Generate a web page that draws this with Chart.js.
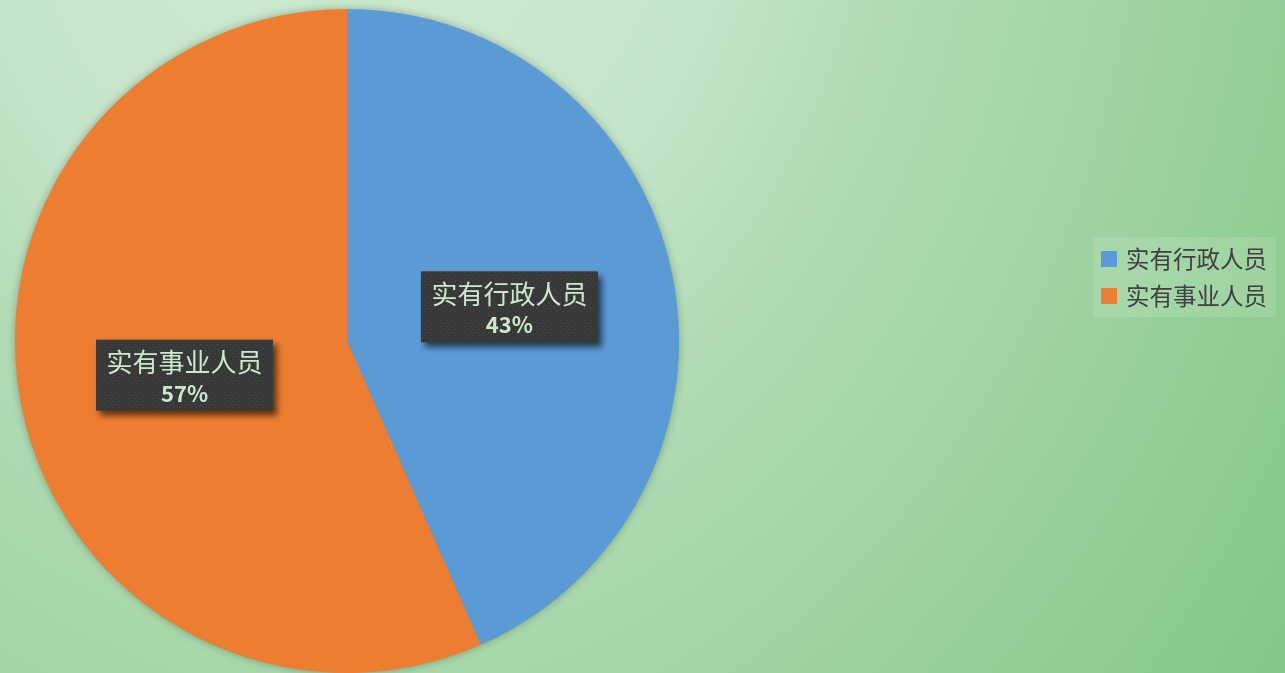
<!DOCTYPE html>
<html>
<head>
<meta charset="utf-8">
<script src="https://cdn.jsdelivr.net/npm/chart.js@4/dist/chart.umd.min.js"></script>
<style>
  html, body { margin: 0; padding: 0; overflow: hidden; }
  #wrap { width: 1285px; height: 673px; }
</style>
</head>
<body>
<div id="wrap"><canvas id="pie"></canvas></div>
<script>
// data
const categories = ["实有行政人员", "实有事业人员"];
const shares = [43.4, 56.6];
const sliceColors = ["#5b9bd5", "#ed7d31"];

const CJK = '"Noto Sans CJK SC", "Noto Sans", sans-serif';

// dotted dark fill for the data label boxes
function makeDots() {
  const c = document.createElement("canvas");
  c.width = 6; c.height = 6;
  const g = c.getContext("2d");
  g.fillStyle = "#383838";
  g.fillRect(0, 0, 6, 6);
  g.fillStyle = "#4a4a4a";
  g.fillRect(2, 2, 1, 1);
  g.fillRect(5, 5, 1, 1);
  return c;
}

// gradient background (elliptical, light spot above the top edge)
const backdrop = {
  id: "backdrop",
  beforeDraw(chart) {
    const { ctx } = chart;
    ctx.save();
    ctx.translate(350, -200);
    ctx.scale(1, 1.25);
    const grad = ctx.createRadialGradient(0, 0, 0, 0, 0, 1170);
    grad.addColorStop(0, "#cdebd2");
    grad.addColorStop(0.33, "#c5e5c9");
    grad.addColorStop(0.47, "#b2dcb5");
    grad.addColorStop(0.57, "#a9d9ad");
    grad.addColorStop(0.67, "#a2d4a5");
    grad.addColorStop(0.81, "#93cf96");
    grad.addColorStop(1, "#85c788");
    ctx.fillStyle = grad;
    ctx.fillRect(-500, 0, 1500, 800);
    ctx.restore();
  },
  // soft shadow under the pie
  beforeDatasetsDraw(chart) {
    const arc = chart.getDatasetMeta(0).data[0];
    if (!arc) return;
    const { ctx } = chart;
    ctx.save();
    ctx.shadowColor = "rgba(0,0,0,0.35)";
    ctx.shadowBlur = 10;
    ctx.fillStyle = "#7a9a7a";
    ctx.beginPath();
    ctx.arc(arc.x, arc.y, arc.outerRadius - 1, 0, Math.PI * 2);
    ctx.fill();
    ctx.restore();
  }
};

// boxed labels at half radius
const sliceLabels = {
  id: "sliceLabels",
  afterDatasetsDraw(chart) {
    const { ctx } = chart;
    const total = shares.reduce((a, b) => a + b, 0);
    const dots = ctx.createPattern(makeDots(), "repeat");
    chart.getDatasetMeta(0).data.forEach((arc, i) => {
      const p = arc.tooltipPosition();
      const w = 177, h = 71;
      const x = p.x - w / 2, y = p.y - h / 2;
      ctx.save();
      ctx.shadowColor = "rgba(0,0,0,0.6)";
      ctx.shadowBlur = 6;
      ctx.shadowOffsetX = 4;
      ctx.shadowOffsetY = 5;
      ctx.fillStyle = dots;
      ctx.fillRect(x, y, w, h);
      ctx.restore();

      ctx.save();
      ctx.fillStyle = "#cde9cd";
      ctx.textAlign = "center";
      ctx.textBaseline = "middle";
      ctx.font = "26px " + CJK;
      ctx.fillText(categories[i], p.x, p.y - 13);
      ctx.font = "bold 22px " + CJK;
      ctx.fillText(Math.round(shares[i] / total * 100) + "%", p.x, p.y + 18);
      ctx.restore();
    });
  }
};

// legend box on the right
const sideLegend = {
  id: "sideLegend",
  afterDraw(chart) {
    const { ctx } = chart;
    ctx.save();
    ctx.fillStyle = "rgba(255,255,255,0.13)";
    ctx.fillRect(1093, 237, 183, 80);
    ctx.font = "23.5px " + CJK;
    ctx.textBaseline = "middle";
    categories.forEach((name, i) => {
      const cy = 259 + i * 37;
      ctx.fillStyle = sliceColors[i];
      ctx.fillRect(1101, cy - 8, 16, 16);
      ctx.fillStyle = "#404040";
      ctx.fillText(name, 1126, cy);
    });
    ctx.restore();
  }
};

new Chart(document.getElementById("pie"), {
  type: "pie",
  data: {
    labels: categories,
    datasets: [{
      data: shares,
      backgroundColor: sliceColors,
      borderWidth: 0,
    }],
  },
  options: {
    responsive: true,
    maintainAspectRatio: false,
    animation: false,
    layout: { padding: { left: 15, right: 606, top: 9, bottom: 0 } },
    plugins: {
      legend: { display: false },
      tooltip: { enabled: false },
    },
  },
  plugins: [backdrop, sliceLabels, sideLegend],
});
</script>
</body>
</html>
